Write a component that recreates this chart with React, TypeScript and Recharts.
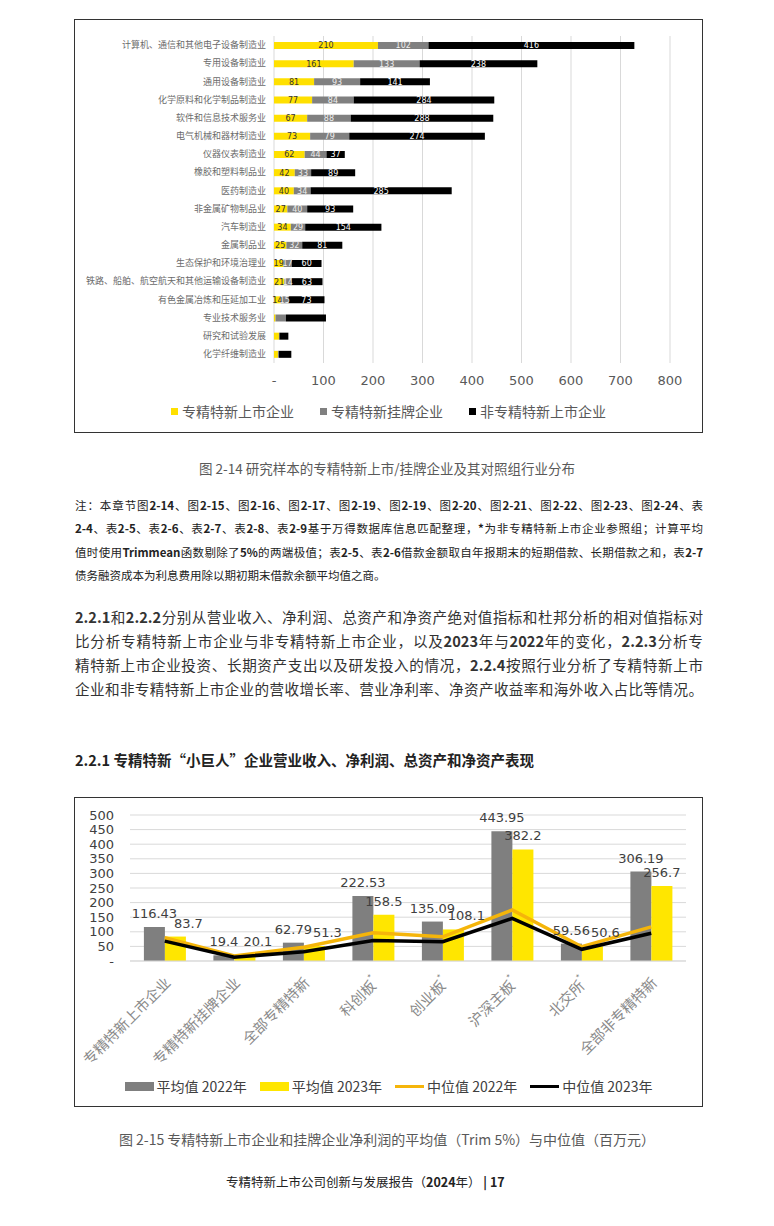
import React from 'react';
import { BarChart, Bar, XAxis, YAxis, CartesianGrid, LabelList, ComposedChart, Line } from 'recharts';

// 图 2-14 行业分布
const industries = [
  '计算机、通信和其他电子设备制造业',
  '专用设备制造业',
  '通用设备制造业',
  '化学原料和化学制品制造业',
  '软件和信息技术服务业',
  '电气机械和器材制造业',
  '仪器仪表制造业',
  '橡胶和塑料制品业',
  '医药制造业',
  '非金属矿物制品业',
  '汽车制造业',
  '金属制品业',
  '生态保护和环境治理业',
  '铁路、船舶、航空航天和其他运输设备制造业',
  '有色金属冶炼和压延加工业',
  '专业技术服务业',
  '研究和试验发展',
  '化学纤维制造业',
];
const listedCount = [210, 161, 81, 77, 67, 73, 62, 42, 40, 27, 34, 25, 19, 21, 14, 3, 10, 8];
const quotedCount = [102, 133, 93, 84, 88, 79, 44, 33, 34, 40, 29, 32, 17, 14, 15, 21, 1, 2];
const nonSpecialCount = [416, 238, 141, 284, 288, 274, 37, 89, 285, 93, 154, 81, 60, 63, 73, 81, 18, 25];
const LABELED_ROWS = 15; // the last rows carry no data labels
const countTicks = [0, 100, 200, 300, 400, 500, 600, 700, 800];

// 图 2-15 净利润
const groups = ['专精特新上市企业', '专精特新挂牌企业', '全部专精特新', '科创板*', '创业板*', '沪深主板*', '北交所*', '全部非专精特新'];
const mean2022 = [116.43, 19.4, 62.79, 222.53, 135.09, 443.95, 59.56, 306.19];
const mean2023 = [83.7, 20.1, 51.3, 158.5, 108.1, 382.2, 50.6, 256.7];
const median2022 = [80, 17, 47, 97, 83, 175, 49, 117];
const median2023 = [68, 13, 32, 70, 66, 146, 40, 95];
const profitTicks = [0, 50, 100, 150, 200, 250, 300, 350, 400, 450, 500];

const YELLOW = '#ffe600';
const GRAY = '#808080';
const GOLD = '#f5b50a';
const CJK = '"Noto Sans CJK SC", sans-serif';
const LATIN = '"DejaVu Sans", "Noto Sans CJK SC", sans-serif';

const industryData = industries.map((name, i) => ({
  name,
  listed: listedCount[i],
  quoted: quotedCount[i],
  nonSpecial: nonSpecialCount[i],
  listedLbl: i < LABELED_ROWS ? listedCount[i] : null,
  quotedLbl: i < LABELED_ROWS ? quotedCount[i] : null,
  nonSpecialLbl: i < LABELED_ROWS ? nonSpecialCount[i] : null,
}));

const profitData = groups.map((name, i) => ({
  name,
  mean2022: mean2022[i],
  mean2023: mean2023[i],
  median2022: median2022[i],
  median2023: median2023[i],
}));

const rich = (s: string) =>
  s.split(/([A-Za-z0-9.%*|\-]+)/).map((part, i) =>
    i % 2 ? <b key={i}>{part}</b> : <span key={i}>{part}</span>
  );

const noteLines = [
  '注：本章节图2-14、图2-15、图2-16、图2-17、图2-19、图2-19、图2-20、图2-21、图2-22、图2-23、图2-24、表',
  '2-4、表2-5、表2-6、表2-7、表2-8、表2-9基于万得数据库信息匹配整理，*为非专精特新上市企业参照组；计算平均',
  '值时使用Trimmean函数剔除了5%的两端极值；表2-5、表2-6借款金额取自年报期末的短期借款、长期借款之和，表2-7',
  '债务融资成本为利息费用除以期初期末借款余额平均值之商。',
];
const paraLines = [
  '2.2.1和2.2.2分别从营业收入、净利润、总资产和净资产绝对值指标和杜邦分析的相对值指标对',
  '比分析专精特新上市企业与非专精特新上市企业，以及2023年与2022年的变化，2.2.3分析专',
  '精特新上市企业投资、长期资产支出以及研发投入的情况，2.2.4按照行业分析了专精特新上市',
  '企业和非专精特新上市企业的营收增长率、营业净利率、净资产收益率和海外收入占比等情况。',
];

const PX_PER_UNIT = 146 / 500;

function meanLabel(shiftIfClose: boolean) {
  return (p: any) => {
    const { x, y, width, value } = p;
    let dx = 0;
    if (shiftIfClose) {
      const i = typeof p.index === 'number' ? p.index : mean2023.indexOf(value);
      if (i >= 0 && Math.abs(mean2022[i] - mean2023[i]) * PX_PER_UNIT < 12) dx = 13;
    }
    return (
      <text x={x + width / 2 + dx} y={y - 9} textAnchor="middle" fontSize={13} fill="#404040" fontFamily={LATIN}>
        {value}
      </text>
    );
  };
}

const GroupTick = (p: any) => {
  const { x, y, payload } = p;
  const label: string = payload.value;
  const star = label.endsWith('*');
  const base = star ? label.slice(0, -1) : label;
  return (
    <g transform={`translate(${x + 4},${y + 12}) rotate(-45)`}>
      <text x={0} y={0} textAnchor="end" dominantBaseline="middle" fontSize={14.5} fill="#8a8a8a" fontFamily={CJK}>
        {base}
        {star && (
          <tspan fontSize={9} baselineShift="super">
            *
          </tspan>
        )}
      </text>
    </g>
  );
};

function TextLine({ top, children, style }: { top: number; children: React.ReactNode; style?: React.CSSProperties }) {
  return <div style={{ position: 'absolute', left: 75, width: 628, top, ...style }}>{children}</div>;
}

export default function App() {
  return (
    <div style={{ position: 'absolute', left: 0, top: 0, width: 774, height: 1226, background: '#fff', fontFamily: CJK }}>
      {/* 图 2-14 */}
      <div style={{ position: 'absolute', left: 74, top: 19, width: 629, height: 414, border: '1px solid #333', boxSizing: 'border-box' }}>
        <BarChart
          width={627}
          height={412}
          layout="vertical"
          data={industryData}
          margin={{ top: 16, right: 32, bottom: 39, left: 0 }}
          barSize={7}
        >
          <CartesianGrid horizontal={false} stroke="#d9d9d9" />
          <XAxis
            type="number"
            domain={[0, 800]}
            ticks={countTicks}
            interval={0}
            axisLine={false}
            tickLine={false}
            tickMargin={7}
            height={30}
            tickFormatter={(v: number) => (v === 0 ? '-' : String(v))}
            tick={{ fontSize: 13, fill: '#595959', fontFamily: LATIN }}
          />
          <YAxis
            type="category"
            dataKey="name"
            width={199}
            axisLine={false}
            tickLine={false}
            interval={0}
            tick={{ fontSize: 9, fill: '#6b6b6b', fontFamily: CJK }}
          />
          <Bar dataKey="listed" stackId="a" fill="#ffe000" isAnimationActive={false}>
            <LabelList dataKey="listedLbl" position="center" fontSize={8} fill="#333" fontFamily={LATIN} />
          </Bar>
          <Bar dataKey="quoted" stackId="a" fill={GRAY} isAnimationActive={false}>
            <LabelList dataKey="quotedLbl" position="center" fontSize={8} fill="#eee" fontFamily={LATIN} />
          </Bar>
          <Bar dataKey="nonSpecial" stackId="a" fill="#000" isAnimationActive={false}>
            <LabelList dataKey="nonSpecialLbl" position="center" fontSize={8} fill="#fff" fontFamily={LATIN} />
          </Bar>
        </BarChart>
        <div style={{ position: 'absolute', left: 0, right: 0, top: 381, display: 'flex', justifyContent: 'center', gap: 26, fontSize: 14, color: '#595959', lineHeight: '20px' }}>
          {[
            ['#ffe000', '专精特新上市企业'],
            [GRAY, '专精特新挂牌企业'],
            ['#000', '非专精特新上市企业'],
          ].map(([c, t]) => (
            <div key={t} style={{ display: 'flex', alignItems: 'center' }}>
              <span style={{ width: 7, height: 7, background: c, marginRight: 4 }} />
              {t}
            </div>
          ))}
        </div>
      </div>

      <div style={{ position: 'absolute', left: 0, width: 774, top: 458, textAlign: 'center', fontSize: 13.5, lineHeight: '20px', color: '#595959' }}>
        图 2-14 研究样本的专精特新上市/挂牌企业及其对照组行业分布
      </div>

      {noteLines.map((l, i) => (
        <TextLine
          key={i}
          top={493 + i * 23.4}
          style={{
            fontSize: 11.5,
            lineHeight: '24px',
            color: '#222',
            textAlign: 'justify',
            textAlignLast: i < noteLines.length - 1 ? 'justify' : 'left',
          }}
        >
          {rich(l)}
        </TextLine>
      ))}

      {paraLines.map((l, i) => (
        <TextLine
          key={i}
          top={605 + i * 24}
          style={{ fontSize: 14.6, lineHeight: '24px', color: '#333', textAlign: 'justify', textAlignLast: 'justify', whiteSpace: 'nowrap' }}
        >
          {rich(l)}
        </TextLine>
      ))}

      <TextLine top={749} style={{ fontSize: 14.5, lineHeight: '22px', fontWeight: 700, color: '#222', whiteSpace: 'nowrap' }}>
        2.2.1 专精特新“小巨人”企业营业收入、净利润、总资产和净资产表现
      </TextLine>

      {/* 图 2-15 */}
      <div style={{ position: 'absolute', left: 74, top: 797, width: 629, height: 310, border: '1px solid #333', boxSizing: 'border-box' }}>
        <ComposedChart
          width={627}
          height={308}
          data={profitData}
          margin={{ top: 17, right: 16, bottom: 45, left: 0 }}
          barGap={0}
          barCategoryGap="20%"
        >
          <CartesianGrid vertical={false} stroke="#d9d9d9" />
          <XAxis
            dataKey="name"
            interval={0}
            height={100}
            axisLine={{ stroke: '#d9d9d9' }}
            tickLine={false}
            tick={<GroupTick />}
          />
          <YAxis
            domain={[0, 500]}
            ticks={profitTicks}
            interval={0}
            width={55}
            axisLine={false}
            tickLine={false}
            tickMargin={10}
            tickFormatter={(v: number) => (v === 0 ? '-' : String(v))}
            tick={{ fontSize: 13, fill: '#404040', fontFamily: LATIN }}
          />
          <Bar dataKey="mean2022" fill="#7f7f7f" isAnimationActive={false}>
            <LabelList dataKey="mean2022" content={meanLabel(false)} />
          </Bar>
          <Bar dataKey="mean2023" fill={YELLOW} isAnimationActive={false}>
            <LabelList dataKey="mean2023" content={meanLabel(true)} />
          </Bar>
          <Line dataKey="median2022" stroke={GOLD} strokeWidth={3.5} dot={false} isAnimationActive={false} />
          <Line dataKey="median2023" stroke="#000" strokeWidth={3.5} dot={false} isAnimationActive={false} />
        </ComposedChart>
        <div style={{ position: 'absolute', left: 0, right: 0, top: 278, display: 'flex', justifyContent: 'center', gap: 13, fontSize: 14, color: '#404040', lineHeight: '20px' }}>
          {[
            ['bar', '#7f7f7f', '平均值 2022年'],
            ['bar', YELLOW, '平均值 2023年'],
            ['line', GOLD, '中位值 2022年'],
            ['line', '#000', '中位值 2023年'],
          ].map(([k, c, t]) => (
            <div key={t} style={{ display: 'flex', alignItems: 'center' }}>
              <span style={{ width: 29, height: k === 'bar' ? 9 : 3, background: c, marginRight: 3 }} />
              {t}
            </div>
          ))}
        </div>
      </div>

      <div style={{ position: 'absolute', left: 0, width: 774, top: 1129, textAlign: 'center', fontSize: 14, lineHeight: '20px', color: '#595959' }}>
        图 2-15 专精特新上市企业和挂牌企业净利润的平均值（Trim 5%）与中位值（百万元）
      </div>

      <div style={{ position: 'absolute', left: 226, top: 1172, fontSize: 12.5, lineHeight: '20px', color: '#222', whiteSpace: 'nowrap' }}>
        专精特新上市公司创新与发展报告（{rich('2024')}年）{rich(' | 17')}
      </div>
    </div>
  );
}
